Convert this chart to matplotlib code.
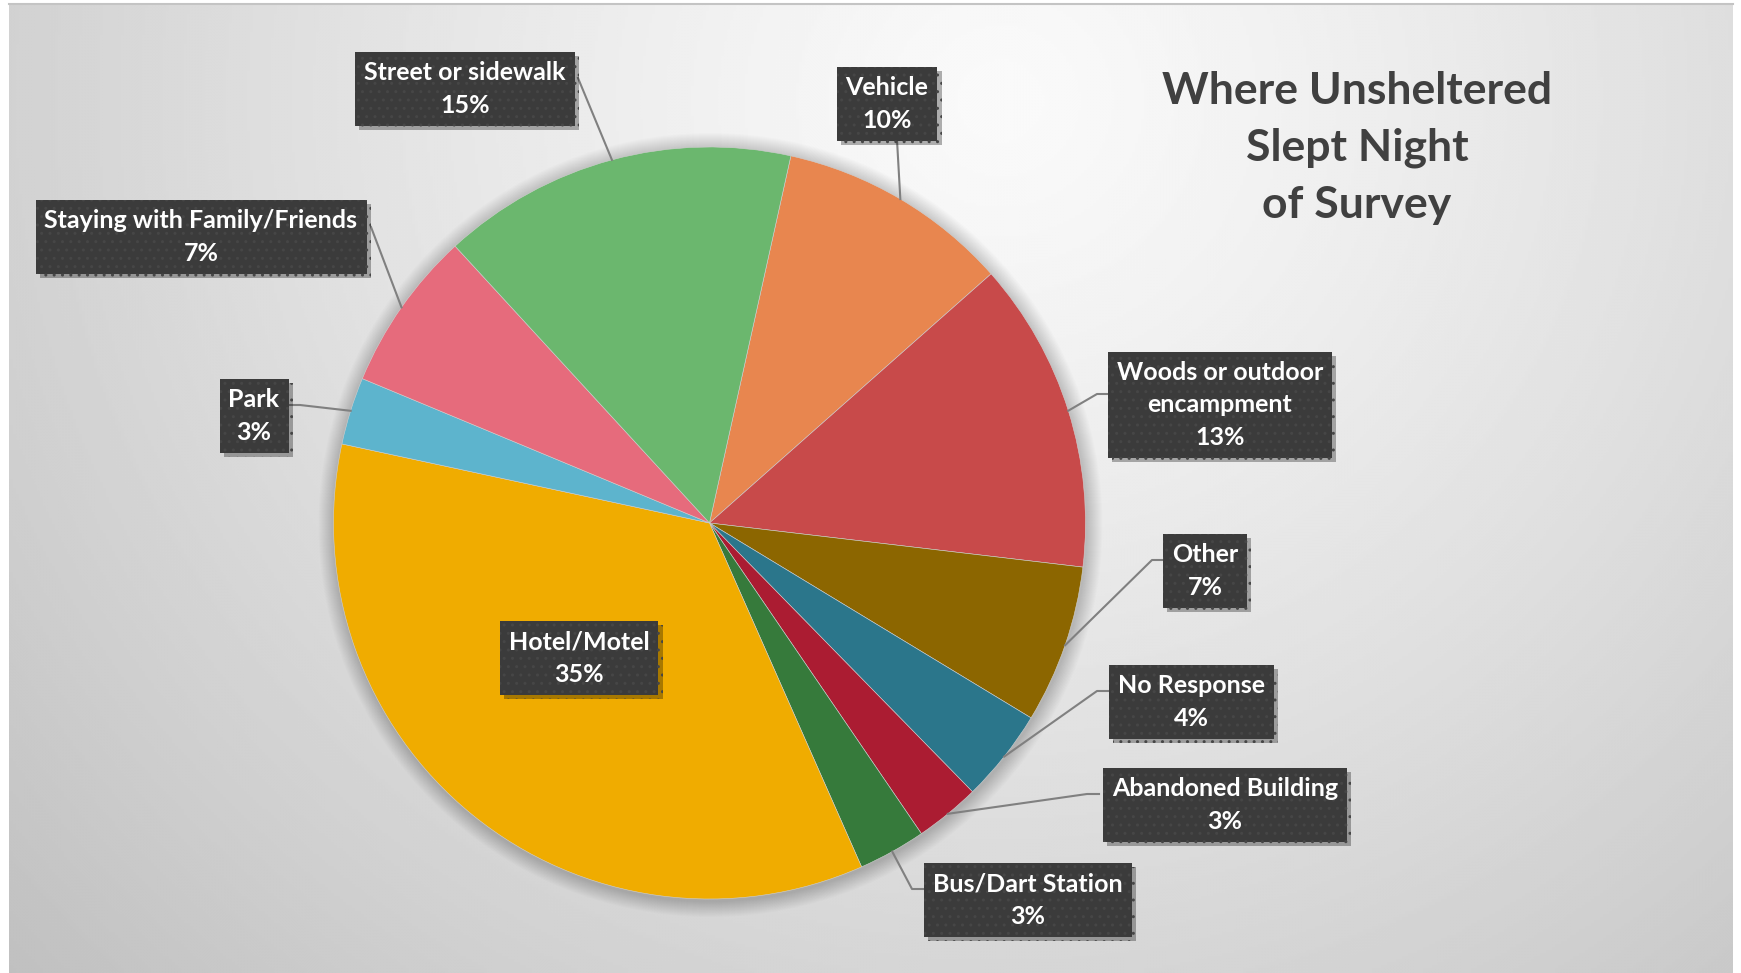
import numpy as np
import matplotlib
matplotlib.use('Agg')
import matplotlib.pyplot as plt
import matplotlib.patheffects as pe
from matplotlib.patches import Circle

# slices in clockwise order, starting just right of 12 o'clock
categories = ['Vehicle', 'Woods or outdoor\nencampment', 'Other', 'No Response',
              'Abandoned Building', 'Bus/Dart Station', 'Hotel/Motel', 'Park',
              'Staying with Family/Friends', 'Street or sidewalk']
shares = [10.0, 13.4, 6.8, 4.0, 2.8, 2.9, 35.0, 2.9, 6.9, 15.3]
colors = ['#E8864F', '#C84A4A', '#8C6600', '#2B768B', '#AB1C32',
          '#367A3B', '#F0AC00', '#5DB4CD', '#E66B7C', '#6BB76E']
title = 'Where Unsheltered\nSlept Night\nof Survey'

W, H = 1741, 973

def Y(y):
    return H - y

# label box centre and leader path (image pixel coords), keyed by slice index
layout = {
    0: ((887, 104), [(897, 140)]),
    1: ((1220, 405), [(1108, 394), (1097, 394)]),
    2: ((1205, 571), [(1163, 560), (1152, 560)]),
    3: ((1191, 702), [(1109, 691), (1097, 691)]),
    4: ((1225, 805), [(1099, 794), (1087, 794)]),
    5: ((1028, 900), [(924, 889), (912, 889)]),
    6: ((579, 658), None),
    7: ((254, 416), [(289, 405), (300, 405)]),
    8: ((201, 237), [(371, 227)]),
    9: ((465, 89), [(578, 78)]),
}

fig = plt.figure(figsize=(W / 100, H / 100), dpi=100, facecolor='white')
ax = fig.add_axes([0, 0, 1, 1])

# radial grey background
x0, x1, y0, y1 = 9, 1733, 4, H
yy, xx = np.mgrid[y0:y1:3, x0:x1:3]
d = np.hypot(xx - 1000, (yy - 100) * 1.05) / 1350.0
g = np.clip(250 - 58 * np.clip(d, 0, 1.1) ** 1.2, 0, 255) / 255.0
ax.imshow(g, cmap='gray', vmin=0, vmax=1, extent=(x0, x1, Y(y1), Y(y0)),
          origin='upper', aspect='auto', zorder=0, interpolation='bilinear')
ax.plot([x0, x1], [Y(y0), Y(y0)], color='#c4c4c4', lw=1.5, zorder=1)

cx, cy, r = 709.5, Y(523), 376

# soft shadow round the pie
for k in range(16):
    ax.add_patch(Circle((cx + 1, cy - 2), r + 16 - k, color='k', alpha=0.012,
                        lw=0, zorder=1))

wedges, _ = ax.pie(shares, colors=colors, startangle=77.5, counterclock=False,
                   center=(cx, cy), radius=r, frame=True,
                   wedgeprops=dict(linewidth=0.4, edgecolor='#d0d0d0', zorder=2))

ax.set_xlim(0, W)
ax.set_ylim(0, H)
ax.set_aspect('equal')
ax.axis('off')

for i, w in enumerate(wedges):
    (bx, by), path = layout[i]
    if path is not None:
        mid = np.deg2rad((w.theta1 + w.theta2) / 2)
        px = [p[0] for p in path] + [cx + r * np.cos(mid)]
        py = [Y(p[1]) for p in path] + [cy + r * np.sin(mid)]
        ax.plot(px, py, color='#808080', lw=1.5, zorder=3)
    txt = '{}\n{}%'.format(categories[i], int(round(shares[i])))
    t = ax.text(bx, Y(by), txt, ha='center', va='center', ma='center',
                color='white', fontsize=18, fontweight='bold', family='Lato',
                linespacing=1.5, zorder=5,
                bbox=dict(boxstyle='square,pad=0.36', facecolor='#3b3b3b',
                          edgecolor='#464646', linewidth=0, hatch='..'))
    t.get_bbox_patch().set_path_effects(
        [pe.SimplePatchShadow(offset=(3, -3), shadow_rgbFace='k', alpha=0.3),
         pe.Normal()])

ax.text(1357, Y(148), title, ha='center', va='center', ma='center',
        color='#404040', fontsize=32, fontweight='bold', family='Lato',
        linespacing=1.5, zorder=5)

fig.savefig('out.png', dpi=100, facecolor='white')
